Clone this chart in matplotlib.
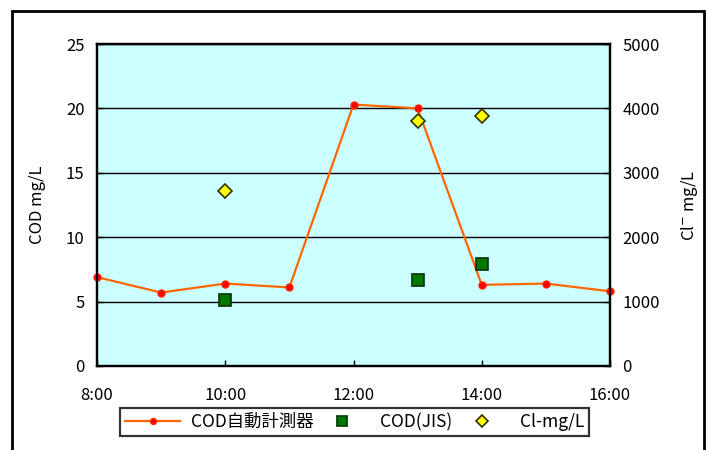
import matplotlib
matplotlib.use("Agg")
import matplotlib.pyplot as plt
from matplotlib.patches import Rectangle
from matplotlib.ticker import MultipleLocator

plt.rcParams['font.family'] = ['Noto Sans CJK JP', 'DejaVu Sans']

# Hourly readings from the automatic COD analyser
auto_times = ["8:00", "9:00", "10:00", "11:00", "12:00", "13:00", "14:00", "15:00", "16:00"]
auto_cod = [6.9, 5.7, 6.4, 6.1, 20.3, 20.0, 6.3, 6.4, 5.8]

# Laboratory COD (JIS method) spot samples
jis_times = ["10:00", "13:00", "14:00"]
jis_cod = [5.1, 6.7, 7.9]

# Chloride concentration of the same samples
cl_times = ["10:00", "13:00", "14:00"]
cl_mgL = [2720, 3800, 3880]

x_ticks = ["8:00", "10:00", "12:00", "14:00", "16:00"]


def hours(labels):
    return [int(t.split(":")[0]) + int(t.split(":")[1]) / 60 for t in labels]


fig = plt.figure(figsize=(7.06, 4.5), dpi=100)
W, H = 706, 450
ax = fig.add_axes([97 / W, 1 - 366 / H, 513 / W, 322 / H])
ax.set_facecolor("#CCFFFF")

ax.set_xlim(8, 16)
ax.set_ylim(0, 25)
ax.yaxis.set_major_locator(MultipleLocator(5))
ax.set_xticks(hours(x_ticks))
ax.set_xticklabels(x_ticks)
ax.grid(axis="y", color="black", linewidth=1.0)
ax.set_axisbelow(True)

for sp in ax.spines.values():
    sp.set_linewidth(1.6)
    sp.set_color("black")

ax.tick_params(axis="both", direction="in", length=4, width=1, labelsize=12,
               colors="black")
ax.tick_params(axis="y", pad=9)
ax.tick_params(axis="x", pad=15)
ax.set_ylabel("COD mg/L", fontsize=12, labelpad=14)

l1, = ax.plot(hours(auto_times), auto_cod, color="#FF6600", linewidth=1.6,
              marker="o", markersize=5, markerfacecolor="#FF0000",
              markeredgecolor="#FF2200", zorder=4, clip_on=False)
l2, = ax.plot(hours(jis_times), jis_cod, linestyle="none", marker="s",
              markersize=8, markerfacecolor="#007700", markeredgecolor="#003300",
              markeredgewidth=1.2, zorder=5)

ax2 = ax.twinx()
ax2.set_ylim(0, 5000)
ax2.yaxis.set_major_locator(MultipleLocator(1000))
ax2.tick_params(axis="y", direction="in", length=4, width=1, labelsize=12, pad=9)
for sp in ax2.spines.values():
    sp.set_linewidth(1.6)
ax2.set_ylabel("Cl$^{-}$ mg/L", fontsize=12, labelpad=14)

l3, = ax2.plot(hours(cl_times), cl_mgL, linestyle="none", marker="D",
               markersize=7, markerfacecolor="#FFFF00", markeredgecolor="#333300",
               markeredgewidth=1.2, zorder=5)

leg = fig.legend([l1, l2, l3], ["COD自動計測器", "COD(JIS)", "Cl-mg/L"],
                 loc="lower left", bbox_to_anchor=(111 / W, 1 - 445 / H, 487 / W, 33 / H),
                 mode="expand", ncol=3, fontsize=12.5, frameon=True, fancybox=False,
                 edgecolor="black", borderpad=0.3, handlelength=3.2,
                 handletextpad=0.6, columnspacing=1.5, markerscale=0.85)
leg.get_frame().set_linewidth(1.6)

# outer chart border
fig.patches.append(Rectangle((12 / W, -0.05), (704 - 12) / W, 1.05 - 11 / H,
                             transform=fig.transFigure, fill=False,
                             edgecolor="black", linewidth=2))

fig.savefig("out.png", dpi=100)
